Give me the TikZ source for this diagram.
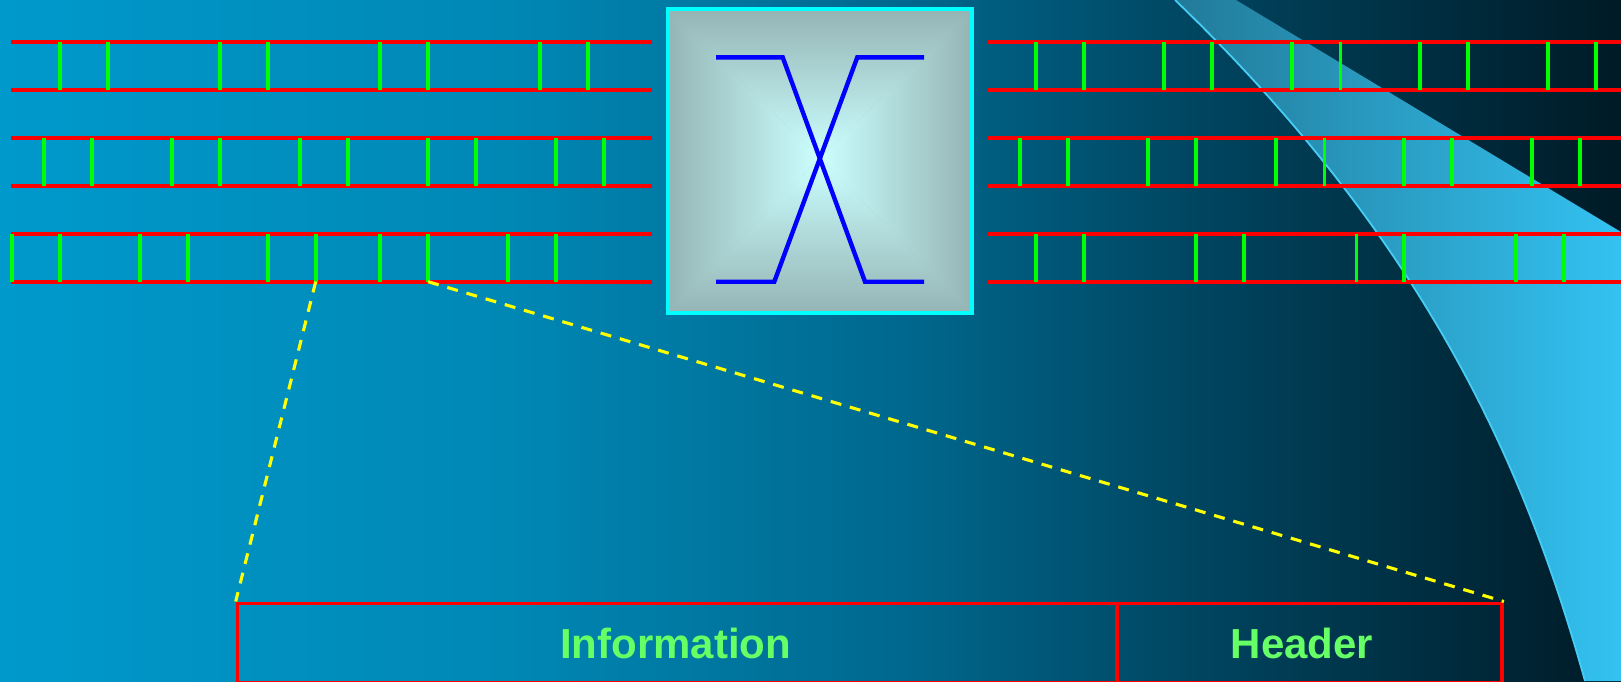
\documentclass[tikz,border=0pt]{standalone}
\usepackage{fontspec}
\setmainfont{Liberation Sans}
\pgfdeclarehorizontalshading{bgshade}{100bp}{rgb(0bp)=(0,0.6,0.8); rgb(25bp)=(0,0.6,0.8); rgb(40.42bp)=(0,0.533,0.71); rgb(52.76bp)=(0,0.408,0.557); rgb(62.01bp)=(0,0.27,0.376); rgb(75bp)=(0,0.102,0.149); rgb(100bp)=(0,0.102,0.149)}
\definecolor{bandL}{RGB}{34,122,152}
\definecolor{bandR}{RGB}{51,194,242}
\definecolor{bandEdge}{RGB}{70,205,245}
\definecolor{boxEdge}{RGB}{149,181,181}
\definecolor{boxMid}{RGB}{204,255,255}
\definecolor{boxLine}{RGB}{0,255,255}
\definecolor{lblgreen}{RGB}{102,255,102}
\definecolor{rung}{RGB}{0,255,0}
\definecolor{railred}{RGB}{255,0,0}
\definecolor{xblue}{RGB}{0,0,255}
\definecolor{dashyel}{RGB}{255,255,0}
\tikzset{
  rail/.style={draw=railred, line width=4pt},
  rungline/.style={draw=rung, line width=3.6pt},
  bluex/.style={draw=xblue, line width=4.4pt},
  cell/.style={draw=railred, line width=3.7pt, rectangle, inner sep=0pt},
  lbl/.style={text=lblgreen, font=\bfseries\fontsize{42}{50}\selectfont, inner sep=0pt},
  yel/.style={draw=dashyel, line width=3.1pt, dash pattern=on 11pt off 9pt}
}
\begin{document}
\begin{tikzpicture}[x=1pt,y=-1pt]
\useasboundingbox (0,0) rectangle (1621,681);
% background
\shade[shading=bgshade] (0,0) rectangle (1621,681);
% light band
\shade[left color=bandL, right color=bandR] (1236,0) -- (1621,232) -- (1621,681) -- (1585,681) .. controls (1529,481) and (1435,250) .. (1175,0) -- cycle;
\draw[bandEdge, line width=1.8pt] (1585,681) .. controls (1529,481) and (1435,250) .. (1175,0);
% left ladders
\foreach \y in {41.7,89.7,137.7,185.7,233.7,281.7} \draw[rail] (10.9,\y) -- (651.6,\y);
\foreach \x in {59.8,107.8,219.7,267.7,380.1,428.1,540.0,588.0} \draw[rungline] (\x,41.7) -- (\x,89.7);
\foreach \x in {43.8,91.8,171.7,219.7,299.7,347.7,428.1,476.0,556.0,604.0} \draw[rungline] (\x,137.7) -- (\x,185.7);
\foreach \x in {11.8,59.8,139.7,187.7,267.7,315.7,380.1,428.1,508.0,556.0} \draw[rungline] (\x,233.7) -- (\x,281.7);
% right ladders
\foreach \y in {41.7,89.7,137.7,185.7,233.7,281.7} \draw[rail] (987.8,\y) -- (1621,\y);
\foreach \x in {1035.9,1083.9,1164.1,1212.1,1292.2,1340.3,1420,1468,1548.1,1596.2} \draw[rungline] (\x,41.7) -- (\x,89.7);
\foreach \x in {1019.9,1067.9,1148,1196.1,1276.2,1324.3,1404,1452,1532.1,1579.8} \draw[rungline] (\x,137.7) -- (\x,185.7);
\foreach \x in {1035.9,1083.9,1196.1,1244.2,1356.3,1404,1516.1,1564.2} \draw[rungline] (\x,233.7) -- (\x,281.7);
% centre box with rectangular gradient
\coordinate (c) at (820,158);
\fill[boxEdge] (668,10) rectangle (971,312);
\shade[top color=boxEdge, bottom color=boxMid] (668,10) -- (971,10) -- (c) -- cycle;
\shade[bottom color=boxEdge, top color=boxMid] (668,312) -- (971,312) -- (c) -- cycle;
\shade[left color=boxEdge, right color=boxMid] (668,10) -- (668,312) -- (c) -- cycle;
\shade[right color=boxEdge, left color=boxMid] (971,10) -- (971,312) -- (c) -- cycle;
\node[draw=boxLine, line width=4pt, rectangle, inner sep=0pt, minimum width=304.5pt, minimum height=303.5pt] (switch) at (819.8,161.2) {};
\draw[bluex] (716,57.3) -- (782.7,57.3) -- (865,281.7) -- (924,281.7);
\draw[bluex] (924,57.3) -- (857.3,57.3) -- (774.3,281.7) -- (716,281.7);
% packet box
\node[cell, anchor=north west, minimum width=879.5pt, minimum height=79pt] (info) at (235.7,601.5) {};
\node[cell, anchor=north west, minimum width=385pt, minimum height=79pt] (head) at (1115.2,601.5) {};
\node[lbl, anchor=base] (infotext) at (675.5,658.3) {Information};
\node[lbl, anchor=base] (headtext) at (1302,658.3) {Header};
% zoom connectors
\coordinate (ra) at (315.7,281.7);
\coordinate (rb) at (428.1,281.7);
\draw[yel] (ra) -- (info.north west);
\draw[yel] (rb) -- (head.north east);
\end{tikzpicture}
\end{document}
